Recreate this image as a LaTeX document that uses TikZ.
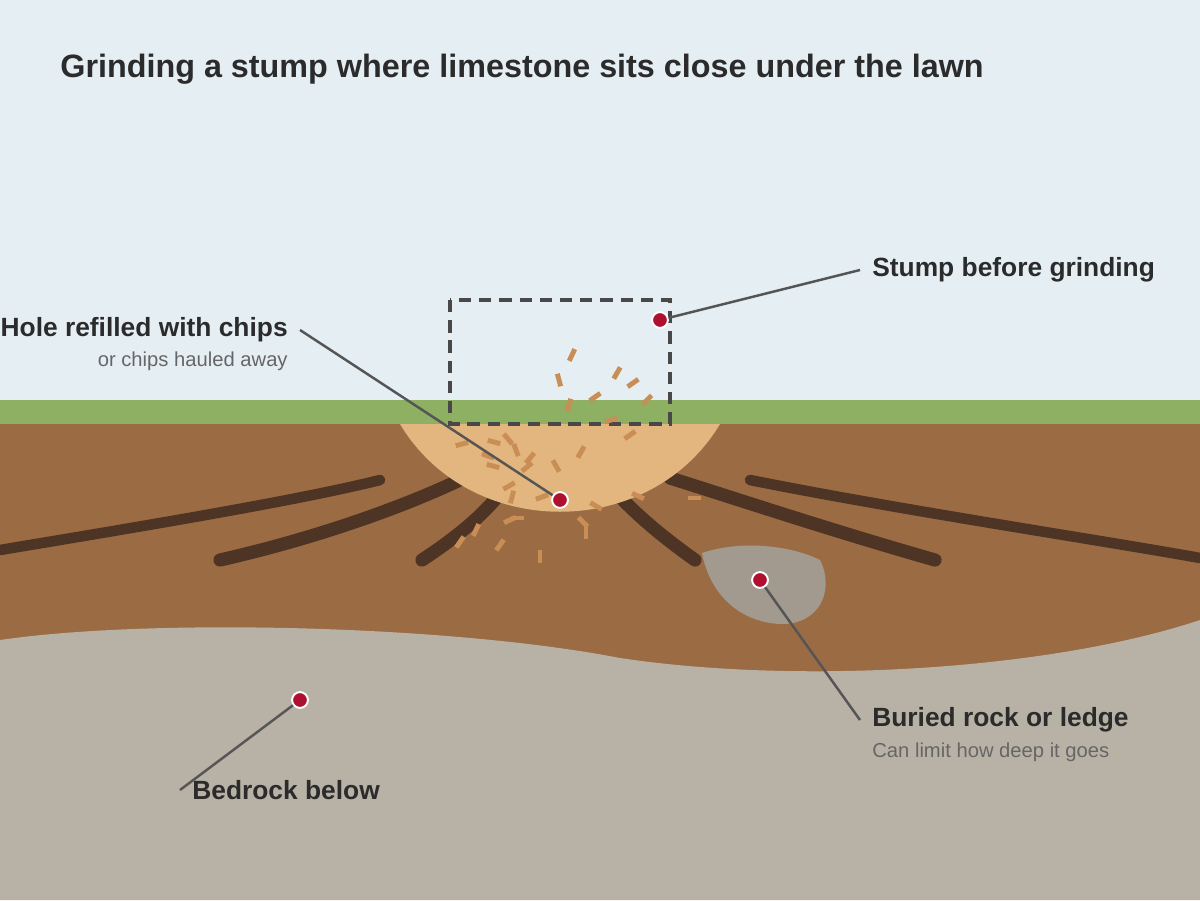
\documentclass[tikz,border=0pt]{standalone}
\usepackage{fontspec}
\setmainfont{Liberation Sans}
\usetikzlibrary{positioning}
\definecolor{sky}{HTML}{E5EEF3}
\definecolor{grass}{HTML}{8DB062}
\definecolor{soil}{HTML}{9B6B43}
\definecolor{holefill}{HTML}{E2B67E}
\definecolor{chip}{HTML}{C98E55}
\definecolor{bedrock}{HTML}{B8B1A6}
\definecolor{rock}{HTML}{A29A8F}
\definecolor{root}{HTML}{4D3425}
\definecolor{marker}{HTML}{B01030}
\definecolor{ink}{HTML}{2B2B2B}
\definecolor{leader}{HTML}{555555}
\tikzset{
  root/.style={draw=root, line width=7.5pt, line cap=round},
  chip/.style={draw=chip, line width=2.8pt},
  lead/.style={draw=leader, line width=1.4pt},
  dot/.style={circle, fill=marker, draw=white, line width=1.1pt, minimum size=9pt, inner sep=0pt},
  label/.style={font=\bfseries\fontsize{15}{18}\selectfont, text=ink, inner sep=0pt},
  sub/.style={font=\fontsize{11.5}{14}\selectfont, text=leader!90, inner sep=0pt}
}
\begin{document}
\begin{tikzpicture}[x=0.02cm, y=-0.02cm]
  \useasboundingbox (0,0) rectangle (1200,900);
  \clip (0,0) rectangle (1200,900);
  % background layers
  \fill[sky] (0,0) rectangle (1200,400);
  \fill[grass] (0,400) rectangle (1200,424);
  \fill[soil] (0,424) rectangle (1200,900);
  \fill[bedrock] (0,640) .. controls (150,618) and (450,625) .. (620,658)
     .. controls (800,685) and (1050,670) .. (1200,620) -- (1200,900) -- (0,900) -- cycle;
  \fill[rock] (702,553) .. controls (740,540) and (790,545) .. (820,560)
     .. controls (835,590) and (820,625) .. (780,624)
     .. controls (740,622) and (710,595) .. (702,553) -- cycle;

  % roots
  \draw[root, line width=6pt] (0,550) .. controls (150,525) and (300,500) .. (380,480);
  \draw[root] (220,560) .. controls (330,535) and (420,500) .. (470,475);
  \draw[root] (422,560) .. controls (460,535) and (490,510) .. (510,480);
  \draw[root] (695,560) .. controls (660,535) and (630,510) .. (605,480);
  \draw[root] (935,560) .. controls (830,530) and (740,500) .. (670,478);
  \draw[root, line width=6pt] (750,480) .. controls (900,510) and (1100,540) .. (1200,558);

  % refilled hole
  \fill[holefill] (400,424) .. controls (470,541) and (650,541) .. (720,424) -- cycle;

  % stump outline
  \draw[leader!85!black, line width=2pt, dash pattern=on 7pt off 4.5pt]
     (450,300) rectangle (670,424);

  % chips
  \foreach \x/\y/\a in {572/355/-65, 559/380/75, 617/373/-60, 633/383/-35, 595/397/-35,
      569/405/-75, 647/400/-45, 611/420/-15, 630/435/-35, 462/444/-15, 494/442/15,
      508/439/50, 516/450/70, 530/458/-50, 527/467/-40, 488/456/20, 493/466/15,
      556/466/60, 581/452/-60, 509/486/-30, 512/497/-75, 542/497/-20, 596/506/30,
      638/496/25, 694/498/0, 460/542/-55, 476/530/-65, 510/520/-25, 517/518/0,
      500/545/-55, 540/556/90, 583/522/45, 586/532/90}
    \draw[chip] (\x,\y) ++(-\a:-0.13cm) -- ++(-\a:0.26cm);

  % markers and leaders
  \node[dot] (stump) at (660,320) {};
  \node[dot] (hole) at (560,500) {};
  \node[dot] (ledge) at (760,580) {};
  \node[dot] (bed) at (300,700) {};
  \coordinate (stumpEnd) at (860,270);
  \coordinate (holeEnd) at (300,330);
  \coordinate (ledgeEnd) at (860,720);
  \coordinate (bedEnd) at (180,790);
  \draw[lead] (stump) -- (stumpEnd);
  \draw[lead] (hole) -- (holeEnd);
  \draw[lead] (ledge) -- (ledgeEnd);
  \draw[lead] (bed) -- (bedEnd);

  % texts
  \node[anchor=west, inner sep=0pt, text=ink, font=\bfseries\fontsize{18.4}{22}\selectfont]
     (title) at (60,69) {Grinding a stump where limestone sits close under the lawn};
  \node[label, anchor=west] (stumpTxt) at (872,270) {Stump before grinding};
  \node[label, anchor=east] (holeTxt) at (288,330) {Hole refilled with chips};
  \node[sub, anchor=east] (holeSub) at (288,361) {or chips hauled away};
  \node[label, anchor=west] (ledgeTxt) at (872,720) {Buried rock or ledge};
  \node[sub, anchor=west] (ledgeSub) at (872,752) {Can limit how deep it goes};
  \node[label, anchor=west] (bedTxt) at (192,790) {Bedrock below};
\end{tikzpicture}
\end{document}
